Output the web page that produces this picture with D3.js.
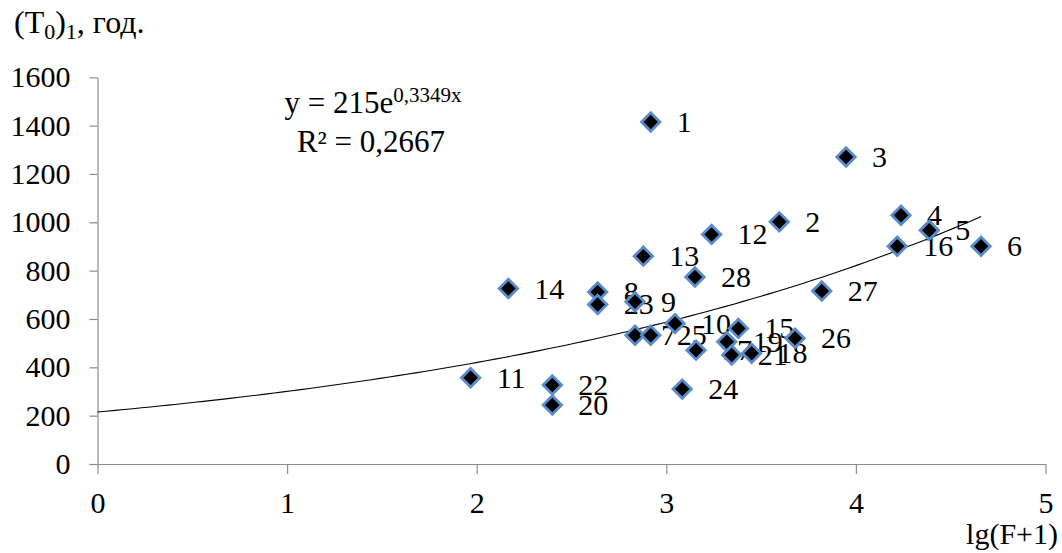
<!DOCTYPE html>
<html lang="ru">
<head>
<meta charset="UTF-8">
<title>(T0)1 vs lg(F+1)</title>
<script src="https://cdnjs.cloudflare.com/ajax/libs/d3/7.8.5/d3.min.js"></script>
<style>
    body { margin: 0; background: #fff; }
    svg { display: block; font-family: "Liberation Serif", "Times New Roman", serif; }
    .axis path, .axis line { stroke: #8c8c8c; stroke-width: 1.2; }
    .pt-label { font-size: 30px; fill: #000; }
</style>
</head>
<body>
<svg id="chart" width="1062" height="553"></svg>
<script>
    // point numbers and coordinates
    const ids = [1, 2, 3, 4, 5, 6, 7, 8, 9, 10, 11, 12, 13, 14, 15, 16, 17, 18, 19, 20, 21, 22, 23, 24, 25, 26, 27, 28];
    const lgF = [2.918, 3.596, 3.948, 4.238, 4.387, 4.660, 2.835, 2.638, 2.835, 3.046, 1.968, 3.239, 2.879, 2.167,
                 3.380, 4.218, 3.157, 3.450, 3.319, 2.399, 3.345, 2.399, 2.638, 3.084, 2.918, 3.679, 3.820, 3.151];
    const T0 = [1415, 1002, 1270, 1029, 967, 901, 533, 712, 671, 581, 357, 950, 860, 726,
                561, 901, 471, 458, 506, 244, 451, 327, 660, 310, 533, 520, 716, 774];

    const xTicks = [0, 1, 2, 3, 4, 5];
    const yTicks = [0, 200, 400, 600, 800, 1000, 1200, 1400, 1600];

    // exponential trend y = a * e^(b x)
    const trendA = 215, trendB = 0.3349, trendR2 = "0,2667";

    const serif = '"Liberation Serif", "Times New Roman", serif';
    const svg = d3.select("#chart");

    const x = d3.scaleLinear().domain([0, 5]).range([97.5, 1045.5]);
    const y = d3.scaleLinear().domain([0, 1600]).range([464, 77.3]);

    // axes
    const gx = svg.append("g")
        .attr("class", "axis")
        .attr("transform", `translate(0,${y(0)})`)
        .call(d3.axisBottom(x).tickValues(xTicks).tickFormat(d3.format("d")).tickSize(10).tickSizeOuter(0).tickPadding(18));

    const gy = svg.append("g")
        .attr("class", "axis")
        .attr("transform", `translate(${x(0)},0)`)
        .call(d3.axisLeft(y).tickValues(yTicks).tickFormat(d3.format("d")).tickSize(8).tickSizeOuter(0).tickPadding(19));

    [gx, gy].forEach(g => {
        g.attr("font-family", serif).attr("font-size", 30);
        g.selectAll("text").attr("fill", "#000").style("font-family", serif).style("font-size", "30px");
    });

    // trend line
    const xMax = d3.max(lgF);
    const trendPts = d3.range(0, 101).map(i => {
        const v = xMax * i / 100;
        return [v, trendA * Math.exp(trendB * v)];
    });
    svg.append("path")
        .attr("d", d3.line().x(d => x(d[0])).y(d => y(d[1]))(trendPts))
        .attr("fill", "none")
        .attr("stroke", "#000")
        .attr("stroke-width", 1.1);

    // labels go under the markers, as in the picture
    const labels = svg.append("g");
    ids.forEach((id, i) => {
        labels.append("text")
            .attr("class", "pt-label")
            .attr("x", x(lgF[i]) + 26)
            .attr("y", y(T0[i]) + 10)
            .text(id);
    });

    const diamond = d3.symbol().type(d3.symbolSquare).size(170);
    svg.append("g").selectAll("path")
        .data(ids.map((id, i) => [lgF[i], T0[i]]))
        .join("path")
        .attr("d", diamond)
        .attr("transform", d => `translate(${x(d[0])},${y(d[1])}) rotate(45)`)
        .attr("fill", "#000")
        .attr("stroke", "#5a8ccc")
        .attr("stroke-width", 2.8);

    // equation
    const eq = svg.append("text")
        .attr("x", 373).attr("y", 113)
        .attr("text-anchor", "middle")
        .attr("font-size", 31);
    eq.append("tspan").text(`y = ${trendA}e`);
    eq.append("tspan").attr("dy", -11).attr("font-size", 21).text(String(trendB).replace(".", ",") + "x");

    svg.append("text")
        .attr("x", 371).attr("y", 152)
        .attr("text-anchor", "middle")
        .attr("font-size", 31)
        .text(`R² = ${trendR2}`);

    // axis titles
    const yTitle = svg.append("text").attr("x", 14).attr("y", 33).attr("font-size", 32);
    yTitle.append("tspan").text("(T");
    yTitle.append("tspan").attr("dy", 6).attr("font-size", 22).text("0");
    yTitle.append("tspan").attr("dy", -6).text(")");
    yTitle.append("tspan").attr("dy", 6).attr("font-size", 22).text("1");
    yTitle.append("tspan").attr("dy", -6).text(", год.");

    svg.append("text")
        .attr("x", 1058).attr("y", 544)
        .attr("text-anchor", "end")
        .attr("font-size", 30)
        .text("lg(F+1)");
</script>
</body>
</html>
